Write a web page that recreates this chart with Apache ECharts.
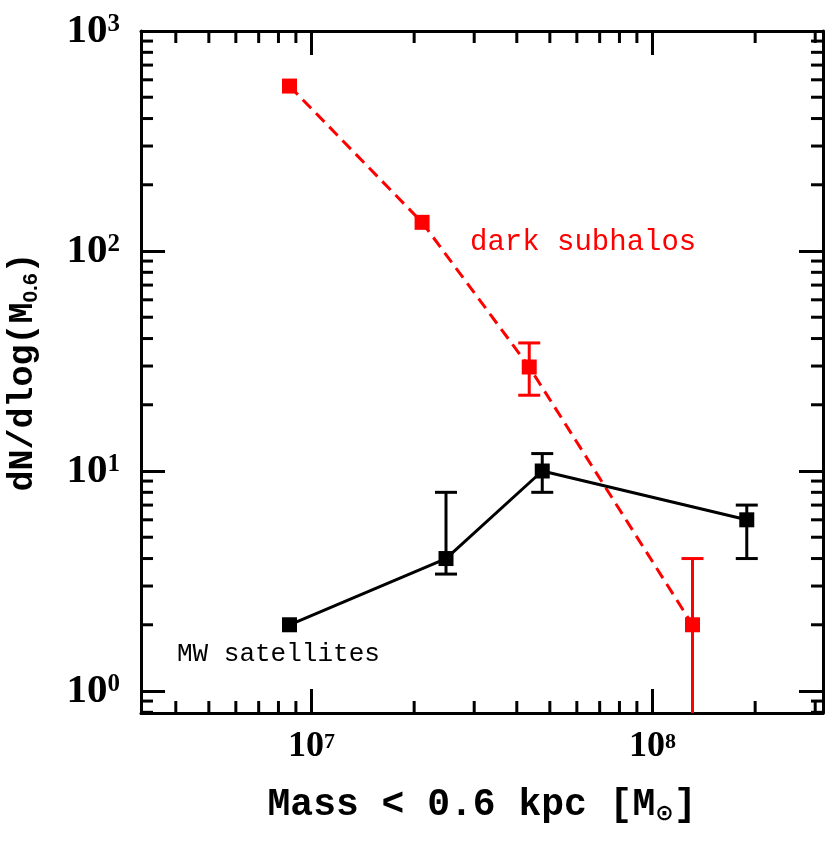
<!DOCTYPE html>
<html>
<head>
<meta charset="utf-8">
<script src="https://cdn.jsdelivr.net/npm/echarts@6/dist/echarts.min.js"></script>
<style>
  html, body { margin: 0; padding: 0; background: #fff; }
  #chart { width: 830px; height: 853px; }
</style>
</head>
<body>
<div id="chart"></div>
<script>
// data
var redX = [8.62e6, 2.11e7, 4.35e7, 1.31e8];
var redY = [562, 135, 29.7, 2.0];
var redLow = [null, null, 22.1, 0];      // 0 = bar runs off the bottom
var redHigh = [null, null, 38.2, 4.0];

var blackX = [8.62e6, 2.48e7, 4.75e7, 1.89e8];
var blackY = [2.0, 4.0, 10.0, 6.0];
var blackLow = [null, 3.4, 8.0, 4.0];
var blackHigh = [null, 8.0, 12.0, 7.0];

var xMin = Math.pow(10, 6.5), xMax = Math.pow(10, 8.5);
var yMin = Math.pow(10, -0.1), yMax = 1000;

// minor tick values (2..9 per decade)
var xMinor = [], yMinor = [];
for (var d = 6; d <= 8; d++) {
    for (var m = 2; m <= 9; m++) {
        var v = m * Math.pow(10, d);
        if (v > xMin && v < xMax) xMinor.push(v);
    }
}
for (var d2 = -1; d2 <= 2; d2++) {
    for (var m2 = 2; m2 <= 9; m2++) {
        var w = m2 * Math.pow(10, d2);
        if (w > yMin && w < yMax) yMinor.push(w);
    }
}

function pairs(xs, ys) {
    var out = [];
    for (var i = 0; i < xs.length; i++) out.push([xs[i], ys[i]]);
    return out;
}
function errData(xs, lo, hi) {
    var out = [];
    for (var i = 0; i < xs.length; i++) {
        if (hi[i] != null) out.push([xs[i], lo[i], hi[i]]);
    }
    return out;
}

function errRender(color) {
    return function (params, api) {
        var cs = params.coordSys;
        var top = api.coord([api.value(0), api.value(2)]);
        var lowVal = api.value(1);
        var bottomY = lowVal > 0 ? api.coord([api.value(0), lowVal])[1] : cs.y + cs.height;
        var x = top[0], hw = 11;
        var st = { stroke: color, lineWidth: 3 };
        var kids = [
            { type: 'line', shape: { x1: x, y1: top[1], x2: x, y2: bottomY }, style: st },
            { type: 'line', shape: { x1: x - hw, y1: top[1], x2: x + hw, y2: top[1] }, style: st }
        ];
        if (lowVal > 0) {
            kids.push({ type: 'line', shape: { x1: x - hw, y1: bottomY, x2: x + hw, y2: bottomY }, style: st });
        }
        return { type: 'group', children: kids };
    };
}

function tickRender(params, api) {
    var cs = params.coordSys;
    var L = cs.x, R = cs.x + cs.width, T = cs.y, B = cs.y + cs.height;
    var len = 12;
    var st = { stroke: '#000', lineWidth: 3 };
    var kids = [];
    xMinor.forEach(function (v) {
        var px = api.coord([v, 1])[0];
        kids.push({ type: 'line', shape: { x1: px, y1: B, x2: px, y2: B - len }, style: st });
        kids.push({ type: 'line', shape: { x1: px, y1: T, x2: px, y2: T + len }, style: st });
    });
    yMinor.forEach(function (v) {
        var py = api.coord([1e7, v])[1];
        kids.push({ type: 'line', shape: { x1: L, y1: py, x2: L + len, y2: py }, style: st });
        kids.push({ type: 'line', shape: { x1: R, y1: py, x2: R - len, y2: py }, style: st });
    });
    return { type: 'group', children: kids };
}

function powLabel(v) {
    var e = Math.log10(v);
    if (Math.abs(e - Math.round(e)) > 1e-6) return '';
    return '{b|10}{s|' + Math.round(e) + '}';
}

var labelRich = function (big) {
    var small = Math.round(big * 0.6);
    return {
        b: { fontFamily: 'Liberation Serif', fontWeight: 'bold', fontSize: big, lineHeight: big, color: '#000' },
        s: { fontFamily: 'Liberation Serif', fontWeight: 'bold', fontSize: small, lineHeight: small,
             verticalAlign: 'bottom', padding: [0, 0, big - small - 2, 0], color: '#000' }
    };
};

var axisBase = {
    type: 'log',
    logBase: 10,
    axisLine: { show: true, onZero: false, lineStyle: { color: '#000', width: 3 } },
    axisTick: { show: true, inside: true, length: 24, lineStyle: { color: '#000', width: 3 } },
    splitLine: { show: false },
    minorTick: { show: false }
};

var myChart = echarts.init(document.getElementById('chart'));
var option = {
    animation: false,
    backgroundColor: '#fff',
    grid: { left: 141, right: 7, top: 31, bottom: 140, containLabel: false, outerBoundsMode: 'none' },
    xAxis: [
        Object.assign({}, axisBase, {
            position: 'bottom', min: xMin, max: xMax,
            axisLabel: { formatter: powLabel, margin: 16, rich: labelRich(36), showMinLabel: false, showMaxLabel: false },
            name: '{t|Mass < 0.6 kpc [M}{u|\u2299}{t|]}',
            nameLocation: 'middle', nameGap: 72,
            nameTextStyle: {
                rich: {
                    t: { fontFamily: 'Liberation Mono', fontWeight: 'bold', fontSize: 38, lineHeight: 40, color: '#000' },
                    u: { fontFamily: 'DejaVu Sans', fontWeight: 'bold', fontSize: 22, lineHeight: 16, verticalAlign: 'bottom', color: '#000' }
                }
            }
        }),
        Object.assign({}, axisBase, {
            position: 'top', min: xMin, max: xMax,
            axisLabel: { show: false }
        })
    ],
    yAxis: [
        Object.assign({}, axisBase, {
            position: 'left', min: yMin, max: yMax,
            axisLabel: { formatter: powLabel, margin: 21, rich: labelRich(41), showMinLabel: false },
            name: '{t|dN/dlog(M}{u|0.6}{t|)}',
            nameLocation: 'middle', nameGap: 99,
            nameTextStyle: {
                rich: {
                    t: { fontFamily: 'Liberation Mono', fontWeight: 'bold', fontSize: 35, lineHeight: 38, color: '#000' },
                    u: { fontFamily: 'Liberation Sans', fontWeight: 'bold', fontSize: 21, lineHeight: 16, verticalAlign: 'bottom', color: '#000' }
                }
            }
        }),
        Object.assign({}, axisBase, {
            position: 'right', min: yMin, max: yMax,
            axisLabel: { show: false }
        })
    ],
    graphic: [
        {
            type: 'text', left: 470, top: 228, z: 10,
            style: { text: 'dark subhalos', fill: '#ff0000', font: '29px "Liberation Mono"' }
        },
        {
            type: 'text', left: 177, top: 641, z: 10,
            style: { text: 'MW satellites', fill: '#000', font: '26px "Liberation Mono"' }
        }
    ],
    series: [
        {
            type: 'custom', name: 'minor ticks', coordinateSystem: 'cartesian2d',
            data: [[1e7, 10]], renderItem: tickRender, silent: true, z: 1
        },
        {
            type: 'custom', name: 'red err', coordinateSystem: 'cartesian2d',
            data: errData(redX, redLow, redHigh), renderItem: errRender('#ff0000'), z: 2
        },
        {
            type: 'custom', name: 'black err', coordinateSystem: 'cartesian2d',
            data: errData(blackX, blackLow, blackHigh), renderItem: errRender('#000'), z: 2
        },
        {
            type: 'line', name: 'dark subhalos', data: pairs(redX, redY),
            symbol: 'rect', symbolSize: 15, z: 3,
            itemStyle: { color: '#ff0000' },
            lineStyle: { color: '#ff0000', width: 3, type: [12, 7] }
        },
        {
            type: 'line', name: 'MW satellites', data: pairs(blackX, blackY),
            symbol: 'rect', symbolSize: 15, z: 3,
            itemStyle: { color: '#000' },
            lineStyle: { color: '#000', width: 3 }
        }
    ]
};
myChart.setOption(option);
</script>
</body>
</html>
